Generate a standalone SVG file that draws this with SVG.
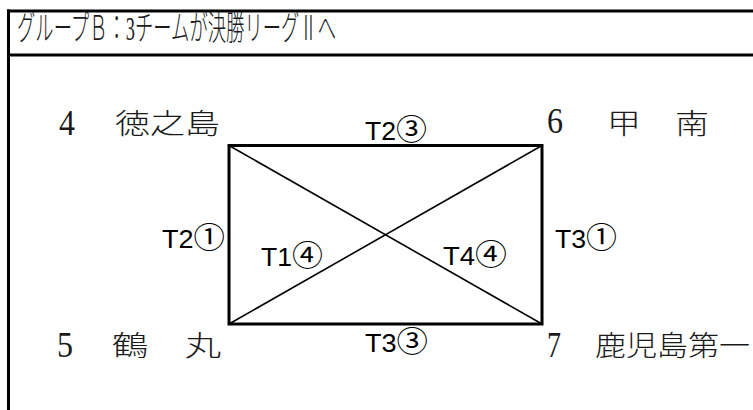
<svg xmlns="http://www.w3.org/2000/svg" width="753" height="410" viewBox="0 0 753 410">
<style>
.frame{stroke:#000;stroke-width:3;fill:none}
.box{stroke:#000;stroke-width:3;fill:none}
.diag{stroke:#000;stroke-width:1.6}
.num{font-family:"Liberation Serif","Noto Sans CJK JP",serif;font-size:35px;fill:#1a1a1a}
.name{font-family:"Noto Sans CJK JP",sans-serif;font-size:28px;font-weight:300;fill:#1a1a1a}
.lbl{font-family:"Liberation Sans","Noto Sans CJK JP",sans-serif;font-size:25px;fill:#000}
.c{font-family:"Noto Sans CJK JP",sans-serif;font-size:29px;font-weight:400}
.title{font-family:"Liberation Serif","Noto Sans CJK JP",serif;font-size:34px;font-weight:300;fill:#1a1a1a}
</style>
<rect width="753" height="410" fill="#fff"/>
<g id="frame">
<line class="frame" x1="7" y1="11" x2="753" y2="11"/>
<line class="frame" x1="7" y1="55" x2="753" y2="55"/>
<line class="frame" x1="8.5" y1="9.5" x2="8.5" y2="410"/>
<text class="title" x="17" y="40" textLength="319" lengthAdjust="spacingAndGlyphs">グループＢ：3チームが決勝リーグⅡへ</text>
</g>
<g id="connectors">
<rect class="box" x="229" y="145.5" width="313" height="178.5"/>
<line class="diag" x1="229" y1="145.5" x2="542" y2="324"/>
<line class="diag" x1="542" y1="145.5" x2="229" y2="324"/>
<text class="lbl" x="365" y="140" textLength="62" lengthAdjust="spacingAndGlyphs">T2<tspan class="c">③</tspan></text>
<text class="lbl" x="365" y="352" textLength="63" lengthAdjust="spacingAndGlyphs">T3<tspan class="c">③</tspan></text>
<text class="lbl" x="162" y="248" textLength="63" lengthAdjust="spacingAndGlyphs">T2<tspan class="c">①</tspan></text>
<text class="lbl" x="555" y="248" textLength="62" lengthAdjust="spacingAndGlyphs">T3<tspan class="c">①</tspan></text>
<text class="lbl" x="261" y="266" textLength="62" lengthAdjust="spacingAndGlyphs">T1<tspan class="c">④</tspan></text>
<text class="lbl" x="443" y="265" textLength="64" lengthAdjust="spacingAndGlyphs">T4<tspan class="c">④</tspan></text>
</g>
<g id="team4">
<text class="num" x="59" y="135" textLength="16" lengthAdjust="spacingAndGlyphs">4</text>
<text class="name" x="115" y="134" textLength="105" lengthAdjust="spacingAndGlyphs">徳之島</text>
</g>
<g id="team6">
<text class="num" x="547" y="133" textLength="16" lengthAdjust="spacingAndGlyphs">6</text>
<text class="name" x="607" y="134" textLength="102" lengthAdjust="spacingAndGlyphs">甲　南</text>
</g>
<g id="team5">
<text class="num" x="57" y="357" textLength="16" lengthAdjust="spacingAndGlyphs">5</text>
<text class="name" x="112" y="356" textLength="109" lengthAdjust="spacingAndGlyphs">鶴　丸</text>
</g>
<g id="team7">
<text class="num" x="547" y="357" textLength="14" lengthAdjust="spacingAndGlyphs">7</text>
<text class="name" x="595" y="356" textLength="155" lengthAdjust="spacingAndGlyphs">鹿児島第一</text>
</g>
</svg>
